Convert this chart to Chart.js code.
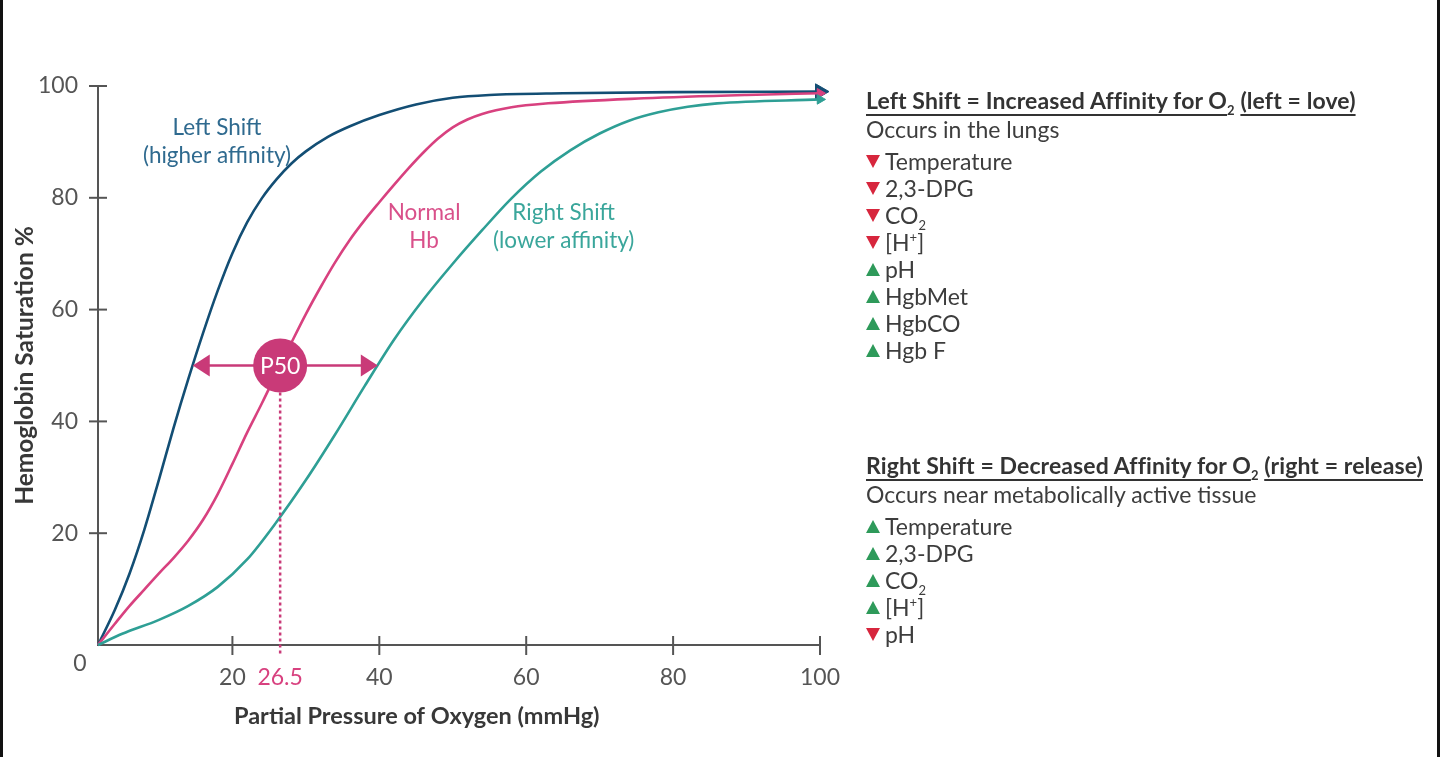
<!DOCTYPE html>
<html><head><meta charset="utf-8">
<script src="https://cdn.jsdelivr.net/npm/chart.js@4"></script>
<style>
html,body{margin:0;padding:0;background:#fff;}
body{width:1440px;height:757px;position:relative;overflow:hidden;font-family:Lato,'Open Sans',sans-serif;}
#wrap{position:absolute;left:0;top:0;width:1440px;height:757px;}
.bl{position:absolute;top:0;width:3px;height:757px;background:#111;}
.panel{position:absolute;left:866px;color:#3d3d3d;font-size:23px;}
.hdr{font-weight:bold;color:#333;white-space:nowrap;height:30px;line-height:30px;font-size:23px;letter-spacing:0.1px;}
.u{text-decoration:underline;text-decoration-thickness:2px;text-underline-offset:5px;}
.occ{height:28px;line-height:28px;white-space:nowrap;margin-bottom:4.5px;}
.line{height:27px;line-height:27px;white-space:nowrap;}
.tri{display:inline-block;width:0;height:0;margin-right:5px;vertical-align:middle;position:relative;top:-2px;}
.down{border-left:7.5px solid transparent;border-right:7.5px solid transparent;border-top:13px solid #d7263d;}
.up{border-left:7.5px solid transparent;border-right:7.5px solid transparent;border-bottom:13px solid #2e9a5a;}
sub,sup{font-size:13px;line-height:0;}
</style></head>
<body>
<div id="wrap"><canvas id="c" width="1440" height="757"></canvas></div>
<div class="bl" style="left:0"></div>
<div class="bl" style="left:1437px"></div>
<div class="panel" id="p1" style="top:85px"></div>
<div class="panel" id="p2" style="top:450px"></div>
<script>
// ---- data (in its tick coordinates) ----
const xStart = 1.7; // where the drawn axes (and the curves) meet on the x tick scale
const leftX  = [1.7, 4, 6, 8, 10, 12, 14, 16, 18, 20, 22, 24, 26, 28, 30, 33, 36, 40, 45, 50, 55, 65, 80, 100];
const leftY  = [0, 6.3, 12.8, 20.6, 29.6, 38.9, 47.6, 55.8, 63.4, 70.1, 75.6, 79.9, 83.3, 86.1, 88.3, 90.9, 92.8, 94.8, 96.7, 97.9, 98.4, 98.7, 98.9, 99.0];
const normX  = [1.7, 4, 6, 8, 10, 12, 14, 16, 18, 20, 22, 24, 26.5, 28, 30, 32, 34, 36, 38, 40, 42, 44, 46, 48, 50, 52, 54, 58, 63, 76, 90, 100];
const normY  = [0, 3.8, 7.0, 9.9, 12.8, 15.6, 18.7, 22.4, 27.0, 32.4, 38.0, 43.2, 50, 54.0, 59.2, 64.0, 68.5, 72.5, 76.0, 79.2, 82.3, 85.3, 88.1, 90.6, 92.6, 94.0, 95.0, 96.2, 96.9, 97.8, 98.4, 98.7];
const rightX = [1.7, 5, 10, 14, 18, 22, 26, 30, 34, 38, 42, 46, 50, 54, 58, 62, 66, 70, 74, 78, 82, 86, 100];
const rightY = [0, 2.0, 4.5, 7.0, 10.4, 15.3, 22.0, 29.5, 37.7, 46.3, 54.6, 61.8, 68.2, 74.2, 79.9, 84.7, 88.5, 91.5, 93.8, 95.3, 96.3, 96.9, 97.6];
const xTicks = [20, 26.5, 40, 60, 80, 100];
const yTicks = [20, 40, 60, 80, 100];
const p50 = 26.5, p50Sat = 50, leftP50 = 14.6, rightP50 = 39.8;
const xTitle = 'Partial Pressure of Oxygen (mmHg)';
const yTitle = 'Hemoglobin Saturation %';
const curveLabels = [
  {lines:['Left Shift','(higher affinity)'], x:17.9, y:90, color:'#2f6a8f'},
  {lines:['Normal','Hb'], x:46.1, y:74.8, color:'#d9508a'},
  {lines:['Right Shift','(lower affinity)'], x:65.1, y:74.8, color:'#3aa69b'}
];
const leftHeader = ['Left Shift = Increased Affinity for O', '2', '(left = love)'];
const leftSub = 'Occurs in the lungs';
const leftFactors = [['down','Temperature'],['down','2,3-DPG'],['down','CO<sub>2</sub>'],['down','[H<sup>+</sup>]'],['up','pH'],['up','HgbMet'],['up','HgbCO'],['up','Hgb F']];
const rightHeader = ['Right Shift = Decreased Affinity for O', '2', '(right = release)'];
const rightSub = 'Occurs near metabolically active tissue';
const rightFactors = [['up','Temperature'],['up','2,3-DPG'],['up','CO<sub>2</sub>'],['up','[H<sup>+</sup>]'],['down','pH']];

// ---- side panel ----
function buildPanel(el, hdr, sub, facs){
  let h = '<div class="hdr"><span class="u">'+hdr[0]+'</span><sub>'+hdr[1]+'</sub> <span class="u">'+hdr[2]+'</span></div>';
  h += '<div class="occ">'+sub+'</div>';
  facs.forEach(f=>{ h += '<div class="line"><span class="tri '+f[0]+'"></span>'+f[1]+'</div>'; });
  el.innerHTML = h;
}
buildPanel(document.getElementById('p1'), leftHeader, leftSub, leftFactors);
buildPanel(document.getElementById('p2'), rightHeader, rightSub, rightFactors);

// ---- chart ----
const BLUE='#134e74', PINK='#d8417f', TEAL='#2e9f95', CIRC='#c93a78', AX='#555';
const FONT='Lato, "Open Sans", sans-serif';
function pts(xs,ys){return xs.map((x,i)=>({x:x,y:ys[i]}));}
function ds(label,xs,ys,color,r){
  return {label:label,data:pts(xs,ys),borderColor:color,backgroundColor:color,pointBorderColor:color,borderWidth:2.6,
    pointStyle:'triangle',pointRotation:90,pointBorderWidth:1,
    pointRadius:(c)=>c.dataIndex===xs.length-1?r:0,pointHoverRadius:0,
    cubicInterpolationMode:'monotone',clip:false};
}
const deco = {
  id:'deco',
  afterDatasetsDraw(chart){
    const ctx=chart.ctx, xs=chart.scales.x, ys=chart.scales.y;
    ctx.save();
    const cx=xs.getPixelForValue(p50), cy=ys.getPixelForValue(p50Sat), R=27;
    ctx.strokeStyle=CIRC; ctx.lineWidth=2.5; ctx.setLineDash([3,3]);
    ctx.beginPath(); ctx.moveTo(cx,cy+R); ctx.lineTo(cx,ys.bottom+10); ctx.stroke();
    ctx.setLineDash([]);
    const lx=xs.getPixelForValue(leftP50), rx=xs.getPixelForValue(rightP50);
    ctx.lineWidth=2.5;
    ctx.beginPath(); ctx.moveTo(lx+14,cy); ctx.lineTo(rx-14,cy); ctx.stroke();
    ctx.fillStyle=CIRC;
    ctx.beginPath(); ctx.moveTo(lx,cy); ctx.lineTo(lx+17,cy-11); ctx.lineTo(lx+17,cy+11); ctx.closePath(); ctx.fill();
    ctx.beginPath(); ctx.moveTo(rx,cy); ctx.lineTo(rx-17,cy-11); ctx.lineTo(rx-17,cy+11); ctx.closePath(); ctx.fill();
    ctx.beginPath(); ctx.arc(cx,cy,R,0,Math.PI*2); ctx.fill();
    ctx.fillStyle='#fff'; ctx.font='23px '+FONT; ctx.textAlign='center'; ctx.textBaseline='middle';
    ctx.fillText('P50',cx,cy+1);
    ctx.font='22.5px '+FONT;
    curveLabels.forEach(l=>{
      ctx.fillStyle=l.color;
      const px=xs.getPixelForValue(l.x), py=ys.getPixelForValue(l.y);
      ctx.fillText(l.lines[0],px,py-14); ctx.fillText(l.lines[1],px,py+14);
    });
    ctx.restore();
  },
  afterDraw(chart){
    const ctx=chart.ctx, xs=chart.scales.x, ys=chart.scales.y;
    ctx.save();
    ctx.strokeStyle=AX; ctx.lineWidth=2;
    yTicks.forEach(v=>{const p=ys.getPixelForValue(v); ctx.beginPath(); ctx.moveTo(xs.left-9,p); ctx.lineTo(xs.left+9,p); ctx.stroke();});
    xTicks.forEach(v=>{ if(v===p50) return; const p=xs.getPixelForValue(v); ctx.beginPath(); ctx.moveTo(p,ys.bottom-9); ctx.lineTo(p,ys.bottom+10); ctx.stroke();});
    ctx.fillStyle=AX; ctx.font='23px '+FONT; ctx.textAlign='center'; ctx.textBaseline='middle';
    ctx.fillText('0', xs.left-18, ys.bottom+19);
    ctx.fillStyle='#383838'; ctx.font='bold 23.5px '+FONT;
    ctx.fillText(xTitle, xs.getPixelForValue(45.1), ys.bottom+71);
    ctx.font='bold 24.5px '+FONT;
    ctx.translate(25,(ys.top+ys.bottom)/2); ctx.rotate(-Math.PI/2);
    ctx.fillText(yTitle,0,0);
    ctx.restore();
  }
};
function make(){
  new Chart(document.getElementById('c'),{
    type:'line',
    data:{datasets:[
      ds('Right Shift',rightX,rightY,TEAL,5.5),
      ds('Normal Hb',normX,normY,PINK,5.5),
      ds('Left Shift',leftX,leftY,BLUE,9)
    ]},
    options:{
      responsive:false,animation:false,events:[],
      layout:{padding:{left:0,right:620,top:86,bottom:0}},
      plugins:{legend:{display:false},tooltip:{enabled:false}},
      scales:{
        x:{type:'linear',min:xStart,max:100,
          afterBuildTicks:s=>{s.ticks=xTicks.map(v=>({value:v}));},
          afterFit:s=>{s.height=112;},
          ticks:{autoSkip:false,maxRotation:0,padding:19,font:{family:FONT,size:23},
            color:c=>c.tick&&c.tick.value===p50?PINK:AX, callback:v=>String(v)},
          grid:{display:false,drawTicks:false},
          border:{display:true,color:AX,width:2}},
        y:{type:'linear',min:0,max:100,
          afterBuildTicks:s=>{s.ticks=yTicks.map(v=>({value:v}));},
          afterFit:s=>{s.width=98;},
          ticks:{padding:20,font:{family:FONT,size:23},color:AX,callback:v=>String(v)},
          grid:{display:false,drawTicks:false},
          border:{display:true,color:AX,width:2}}
      }
    },
    plugins:[deco]
  });
}
if(document.fonts&&document.fonts.load){
  Promise.all([document.fonts.load('23px Lato'),document.fonts.load('bold 23px Lato')]).then(make,make);
} else make();
</script>
</body></html>
